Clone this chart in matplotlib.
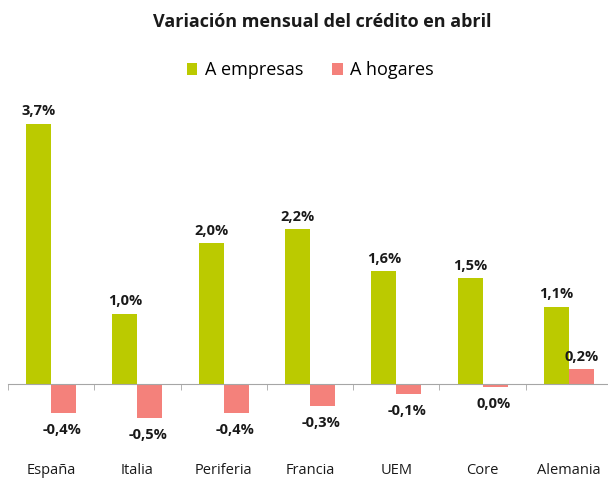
import matplotlib.pyplot as plt
import numpy as np

plt.rcParams['font.family'] = ['Open Sans', 'DejaVu Sans']

categorias = ["España", "Italia", "Periferia", "Francia", "UEM", "Core", "Alemania"]
empresas = [3.7, 1.0, 2.0, 2.2, 1.6, 1.5, 1.1]
hogares = [-0.41, -0.48, -0.41, -0.31, -0.14, -0.04, 0.21]

verde = "#BBCA00"
salmon = "#F4817B"


def etiqueta(v):
    r = round(v, 1)
    if r == 0:
        r = 0.0
    return ("%.1f%%" % r).replace(".", ",")


fig = plt.figure(figsize=(6.08, 4.84), dpi=100)
ax = fig.add_axes([8 / 608, 0.0754, 604 / 608, 0.713])

x = np.arange(len(categorias))
w = 0.29
b1 = ax.bar(x - w / 2, empresas, w, color=verde, label="A empresas")
b2 = ax.bar(x + w / 2, hogares, w, color=salmon, label="A hogares")

for xi, v in zip(x, empresas):
    ax.annotate(etiqueta(v), (xi - w / 2, v), xytext=(0, 4), textcoords="offset points",
                ha="center", va="bottom", fontsize=10.5, fontweight="bold", color="#1a1a1a")
for xi, v in zip(x, hogares):
    if v >= 0:
        ax.annotate(etiqueta(v), (xi + w / 2, v), xytext=(0, 4), textcoords="offset points",
                    ha="center", va="bottom", fontsize=10.5, fontweight="bold", color="#1a1a1a")
    else:
        ax.annotate(etiqueta(v), (xi + w / 2, v), xytext=(-1, -7), textcoords="offset points",
                    ha="center", va="top", fontsize=10.5, fontweight="bold", color="#1a1a1a")

ax.set_xlim(-0.5, len(categorias) - 0.5)
ax.set_ylim(-0.9, 4.0)

for s in ["top", "right", "left"]:
    ax.spines[s].set_visible(False)
ax.spines["bottom"].set_position(("data", 0))
ax.spines["bottom"].set_color("#a6a6a6")
ax.set_yticks([])

ax.set_xticks(x)
ax.set_xticklabels(categorias, fontsize=10.5, color="#1a1a1a")
ax.tick_params(axis="x", which="major", length=0, pad=57)
ax.set_xticks(np.arange(-0.5, len(categorias), 1), minor=True)
ax.tick_params(axis="x", which="minor", length=4, color="#a6a6a6", direction="out")

fig.text(0.53, 0.955, "Variación mensual del crédito en abril", ha="center", va="center",
         fontsize=13, fontweight="bold", color="#1a1a1a")
fig.legend(handles=[b1, b2], loc="center", bbox_to_anchor=(0.51, 0.855), ncol=2,
           frameon=False, fontsize=13, handlelength=0.6, handleheight=0.6,
           handletextpad=0.4, columnspacing=1.6)

fig.savefig("out.png", dpi=100)
